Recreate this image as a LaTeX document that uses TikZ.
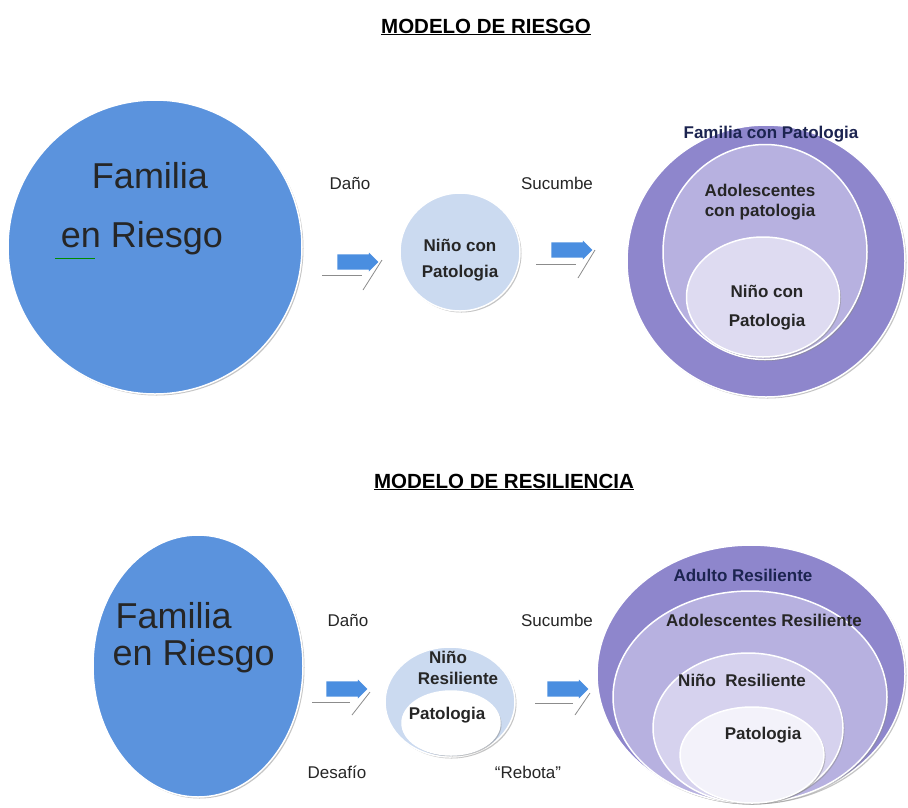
\documentclass[tikz,border=0pt]{standalone}
\usepackage{fontspec}
\setmainfont{Liberation Sans}
\usetikzlibrary{shapes.geometric,shapes.arrows,shadows}
\definecolor{famblue}{HTML}{5B93DD}
\definecolor{arrowblue}{HTML}{4A8EE0}
\definecolor{ninoblue}{HTML}{CBDAF0}
\definecolor{lilaA}{HTML}{8E86CC}
\definecolor{lilaB}{HTML}{B7B1E0}
\definecolor{lilaC}{HTML}{D6D2EE}
\definecolor{lilaD}{HTML}{F3F2FA}
\definecolor{navy}{HTML}{1C2450}
\begin{document}
\begin{tikzpicture}[x=1pt, y=-1pt,
  disk/.style = {ellipse, draw=white, line width=1.5pt, inner sep=0pt,
    drop shadow={shadow xshift=1.5pt, shadow yshift=-1.5pt, fill=black!45, opacity=.5}},
  lbl/.style = {font=\fontsize{17}{20}\selectfont, text=black!85},
  blbl/.style = {font=\bfseries\fontsize{17}{20}\selectfont, text=black!85},
  big/.style = {font=\fontsize{36}{40}\selectfont, text=black!85, anchor=base},
  ttl/.style = {font=\bfseries\fontsize{20.5}{24}\selectfont},
  blk/.style = {single arrow, fill=arrowblue, minimum height=41pt, inner sep=7.5pt,
    single arrow head extend=1.8pt, single arrow head indent=0pt},
  shd/.style = {draw=black!45, line width=0.8pt}]
\useasboundingbox[fill=white] (0,0) rectangle (908,807);

% modelo de riesgo
\node[ttl] (t1) at (486,27) {\underline{MODELO DE RIESGO}};
\node[disk, fill=famblue, minimum width=294pt, minimum height=294pt] (famA) at (155,247) {};
\node[big] (famA1) at (150,188) {Familia};
\node[big] (famA2) at (142,247) {en Riesgo};
\draw[green!55!black, line width=1pt] (55,258) -- (95,258);
\node[disk, fill=ninoblue, minimum width=120pt, minimum height=118pt] (ninoA) at (460,252) {};
\node[blbl, align=center] (ninoAt) at (460,260) {Niño con\\[6pt]Patologia};
\node[lbl] (danoA) at (350,183) {Daño};
\node[lbl] (sucA) at (557,183) {Sucumbe};
\node[blk] (arrA1) at (354,262) {};
\node[blk] (arrA2) at (568,250) {};
\draw[shd] (arrA1) ++(-32,13) -- ++(40,0);
\draw[shd] (arrA1) ++(9,28) -- ++(19,-30);
\draw[shd] (arrA2) ++(-32,14) -- ++(40,0);
\draw[shd] (arrA2) ++(10,28) -- ++(17,-28);
\node[disk, fill=lilaA, minimum width=278pt, minimum height=272pt] (famP) at (766,261) {};
\node[disk, fill=lilaB, minimum width=204pt, minimum height=215pt] (adolP) at (765,252) {};
\node[disk, fill=lilaC!80!white, minimum width=153pt, minimum height=120pt] (ninoP) at (763,297) {};
\node[blbl, text=navy] (famPt) at (771,134) {Familia con Patologia};
\node[blbl, align=center] (adolPt) at (760,202) {Adolescentes\\con patologia};
\node[blbl, align=center] (ninoPt) at (767,308) {Niño con\\[9pt]Patologia};

% modelo de resiliencia
\node[ttl] (t2) at (504,482) {\underline{MODELO DE RESILIENCIA}};
\node[disk, fill=famblue, minimum width=210pt, minimum height=262pt] (famB) at (198,666) {};
\node[big, anchor=base west] (famB1) at (112,628) {Familia};
\node[big, anchor=base west] (famB2) at (109,665) {en Riesgo};
\node[disk, fill=ninoblue, minimum width=130pt, minimum height=110pt] (ninoB) at (450,702) {};
\node[disk, fill=white, minimum width=98pt, minimum height=64pt] (patB) at (451,723) {};
\node[blbl] (ninoBt1) at (448,657) {Niño};
\node[blbl] (ninoBt2) at (458,678) {Resiliente};
\node[blbl] (patBt) at (447,715) {Patologia};
\node[lbl] (danoB) at (348,620) {Daño};
\node[lbl] (sucB) at (557,620) {Sucumbe};
\node[lbl] (desB) at (337,772) {Desafío};
\node[lbl] (rebB) at (528,772) {“Rebota”};
\node[blk] (arrB1) at (343,689) {};
\node[blk] (arrB2) at (564,689) {};
\draw[shd] (arrB1) ++(-31,13) -- ++(38,0);
\draw[shd] (arrB1) ++(9,26) -- ++(18,-23);
\draw[shd] (arrB2) ++(-29,14) -- ++(38,0);
\draw[shd] (arrB2) ++(11,26) -- ++(15,-22);
\node[disk, fill=lilaA, minimum width=308pt, minimum height=258pt] (adultB) at (751,674) {};
\node[disk, fill=lilaB, minimum width=274pt, minimum height=212pt] (adolB) at (750,697) {};
\node[disk, fill=lilaC, minimum width=190pt, minimum height=150pt] (ninoRB) at (748,728) {};
\node[disk, fill=lilaD, minimum width=144pt, minimum height=96pt] (patRB) at (752,755) {};
\node[blbl, text=navy] (adultBt) at (743,575) {Adulto Resiliente};
\node[blbl] (adolBt) at (764,620) {Adolescentes Resiliente};
\node[blbl] (ninoRBt) at (742,680) {Niño\ \ Resiliente};
\node[blbl] (patRBt) at (763,735) {Patologia};
\end{tikzpicture}
\end{document}
